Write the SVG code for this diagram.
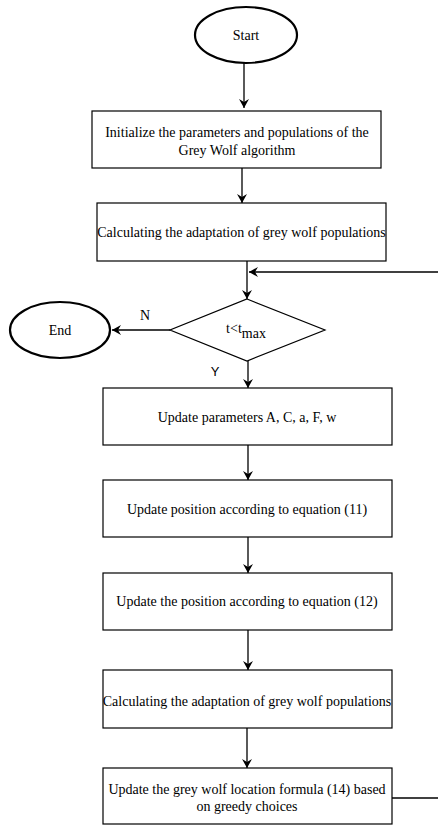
<svg xmlns="http://www.w3.org/2000/svg" width="438" height="826" viewBox="0 0 438 826">
<defs>
<style>
.box{fill:#fff;stroke:#000;stroke-width:1.2}
.term{fill:#fff;stroke:#000;stroke-width:2.2}
.t{font-family:"Liberation Serif","Times New Roman",serif;font-size:14px;fill:#000;text-anchor:middle}
.s{font-family:"Liberation Sans",Arial,sans-serif;font-size:13px;fill:#000;text-anchor:middle}
.c{fill:none;stroke:#000;stroke-width:1.3}
</style>
<marker id="ah" markerWidth="10" markerHeight="10" refX="9" refY="5" orient="auto" markerUnits="userSpaceOnUse">
<path d="M0,0 L9,5 L0,10 L3,5 Z" fill="#000"/>
</marker>
</defs>
<rect width="438" height="826" fill="#fff"/>
<g id="connectors">
<path class="c" d="M244,63 V108" marker-end="url(#ah)"/>
<path class="c" d="M242,168 V203" marker-end="url(#ah)"/>
<path class="c" d="M247,261 V299" marker-end="url(#ah)"/>
<path class="c" d="M440,272 H249" marker-end="url(#ah)"/>
<path class="c" d="M170,330 H112" marker-end="url(#ah)"/>
<path class="c" d="M248,361 V388" marker-end="url(#ah)"/>
<path class="c" d="M248,445 V480" marker-end="url(#ah)"/>
<path class="c" d="M248,537 V573" marker-end="url(#ah)"/>
<path class="c" d="M248,630 V670" marker-end="url(#ah)"/>
<path class="c" d="M247,728 V768" marker-end="url(#ah)"/>
<path class="c" d="M392,798 H440"/>
<text class="t" x="145" y="320">N</text>
<text class="s" x="215" y="376">Y</text>
</g>
<g id="start">
<ellipse class="term" cx="246" cy="35" rx="51" ry="28"/>
<text class="t" x="246" y="40">Start</text>
</g>
<g id="init">
<rect class="box" x="92" y="111" width="289" height="57"/>
<text class="t" x="237" y="137">Initialize the parameters and populations of the</text>
<text class="t" x="237" y="155">Grey Wolf algorithm</text>
</g>
<g id="calc1">
<rect class="box" x="97" y="203" width="289" height="58"/>
<text class="t" x="241.5" y="237">Calculating the adaptation of grey wolf populations</text>
</g>
<g id="decision">
<path class="box" d="M247,299 L325,330 L247,361 L170,330 Z"/>
<text class="t" x="246" y="333">t&lt;t<tspan dy="5">max</tspan></text>
</g>
<g id="end">
<ellipse class="term" cx="60" cy="330" rx="50" ry="28"/>
<text class="t" x="60" y="335">End</text>
</g>
<g id="update-params">
<rect class="box" x="103" y="388" width="289" height="57"/>
<text class="t" x="247" y="422">Update parameters A, C, a, F, w</text>
</g>
<g id="update-11">
<rect class="box" x="103" y="480" width="289" height="57"/>
<text class="t" x="247" y="514">Update position according to equation (11)</text>
</g>
<g id="update-12">
<rect class="box" x="103" y="573" width="289" height="57"/>
<text class="t" x="247" y="606">Update the position according to equation (12)</text>
</g>
<g id="calc2">
<rect class="box" x="103" y="670" width="289" height="58"/>
<text class="t" x="247" y="706">Calculating the adaptation of grey wolf populations</text>
</g>
<g id="greedy">
<rect class="box" x="103" y="768" width="289" height="56"/>
<text class="t" x="247" y="794">Update the grey wolf location formula (14) based</text>
<text class="t" x="247" y="811">on greedy choices</text>
</g>
</svg>
